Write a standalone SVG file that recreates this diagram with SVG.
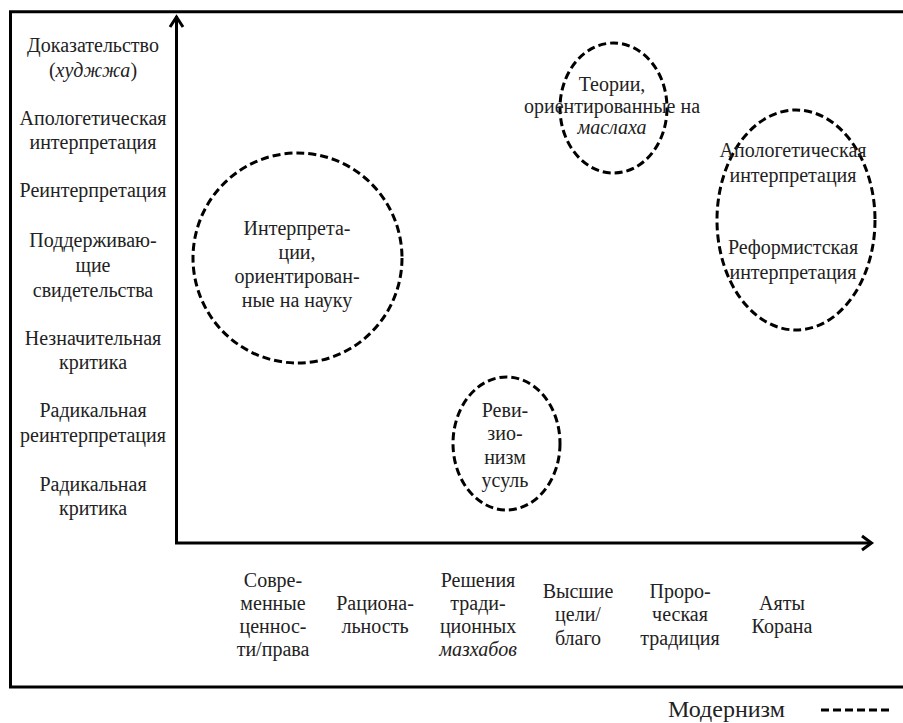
<svg xmlns="http://www.w3.org/2000/svg" width="903" height="723" viewBox="0 0 903 723">
<style>
text{font-family:"Liberation Serif","DejaVu Serif",serif;font-size:20px;fill:#222;text-anchor:middle}
.i{font-style:italic}
.ax{fill:none;stroke:#000;stroke-width:3}
.c{fill:none;stroke:#000;stroke-width:3;stroke-dasharray:8 4}
.big{font-size:24px;text-anchor:start}
</style>
<rect width="903" height="723" fill="#fff"/>
<path class="ax" d="M903,11.7 H10.5 V687 H903"/>
<g id="connectors">
<path class="ax" d="M176.5,543 V16"/>
<polyline class="ax" points="170,27 176.5,17 183,27"/>
<path class="ax" d="M175,543 H871"/>
<polyline class="ax" points="862,536 871.5,543 862,550"/>
</g>
<g id="y-labels">
<text x="93" y="52">Доказательство</text>
<text x="93" y="77">(<tspan class="i">худжжа</tspan>)</text>
<text x="93" y="125">Апологетическая</text>
<text x="93" y="149">интерпретация</text>
<text x="93" y="197">Реинтерпретация</text>
<text x="93" y="247">Поддерживаю-</text>
<text x="93" y="272">щие</text>
<text x="93" y="297">свидетельства</text>
<text x="93" y="345">Незначительная</text>
<text x="93" y="369">критика</text>
<text x="93" y="417">Радикальная</text>
<text x="93" y="442">реинтерпретация</text>
<text x="93" y="491">Радикальная</text>
<text x="93" y="515">критика</text>
</g>
<g id="x-labels">
<text x="273" y="587">Совре-</text>
<text x="273" y="610">менные</text>
<text x="273" y="633">ценнос-</text>
<text x="273" y="656">ти/права</text>
<text x="375" y="610">Рациона-</text>
<text x="375" y="633">льность</text>
<text x="478" y="587">Решения</text>
<text x="478" y="610">тради-</text>
<text x="478" y="633">ционных</text>
<text x="478" y="656" class="i">мазхабов</text>
<text x="578" y="598">Высшие</text>
<text x="578" y="621">цели/</text>
<text x="578" y="645">благо</text>
<text x="680" y="598">Проро-</text>
<text x="680" y="621">ческая</text>
<text x="680" y="645">традиция</text>
<text x="782" y="610">Аяты</text>
<text x="782" y="633">Корана</text>
</g>
<g id="node-science">
<ellipse class="c" cx="297.5" cy="258" rx="104.5" ry="105"/>
<text x="297" y="235">Интерпрета-</text>
<text x="297" y="259">ции,</text>
<text x="297" y="283">ориентирован-</text>
<text x="297" y="307">ные на науку</text>
</g>
<g id="node-usul">
<ellipse class="c" cx="506.5" cy="443.5" rx="53.5" ry="66.5"/>
<text x="505" y="417">Реви-</text>
<text x="505" y="440">зио-</text>
<text x="505" y="464">низм</text>
<text x="505" y="487">усуль</text>
</g>
<g id="node-maslaha">
<ellipse class="c" cx="613.5" cy="108" rx="53.5" ry="65"/>
<text x="612" y="91">Теории,</text>
<text x="612" y="113">ориентированные на</text>
<text x="612" y="134" class="i">маслаха</text>
</g>
<g id="node-apologetic">
<ellipse class="c" cx="796" cy="220" rx="79" ry="110"/>
<text x="793" y="157">Апологетическая</text>
<text x="793" y="182">интерпретация</text>
<text x="793" y="254">Реформистская</text>
<text x="793" y="279">интерпретация</text>
</g>
<g id="legend">
<text class="big" x="668" y="717">Модернизм</text>
<line class="c" x1="821" y1="710" x2="891" y2="710" stroke-width="3.5" stroke-dasharray="9 3"/>
</g>
</svg>
